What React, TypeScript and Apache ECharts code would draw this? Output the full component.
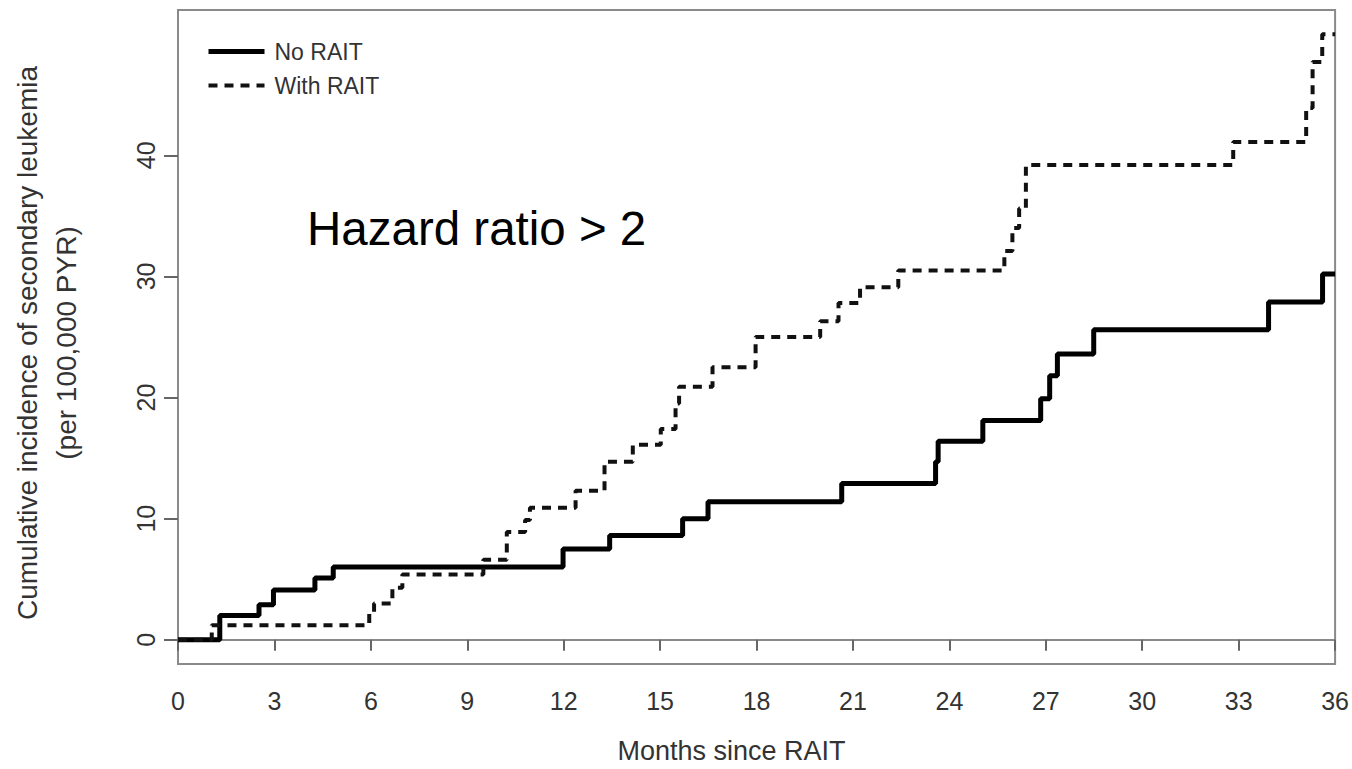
import React, { useEffect, useRef } from "react";
import * as echarts from "echarts";

// ---- Data ----
const noRaitMonths = [0, 1.3, 2.52, 2.97, 4.26, 4.83, 11.98, 13.43, 15.7, 16.49, 20.65, 23.57, 23.65, 25.04, 26.84, 27.12, 27.36, 28.49, 33.93, 35.61, 36];
const noRaitValues = [0, 2.0, 2.9, 4.1, 5.1, 6.0, 7.5, 8.6, 10.0, 11.4, 12.9, 14.7, 16.4, 18.1, 19.9, 21.8, 23.6, 25.6, 27.9, 30.2, 30.2];

const withRaitMonths = [0, 1.05, 5.95, 6.1, 6.67, 6.98, 9.5, 10.23, 10.8, 10.95, 12.37, 13.27, 14.15, 15.02, 15.48, 15.59, 16.63, 17.97, 19.98, 20.55, 21.22, 22.41, 25.71, 25.96, 26.17, 26.38, 32.83, 35.1, 35.3, 35.6, 36];
const withRaitValues = [0, 1.2, 2.2, 3.0, 4.3, 5.4, 6.6, 8.9, 9.9, 10.9, 12.3, 14.7, 16.1, 17.4, 19.5, 20.9, 22.5, 25.0, 26.3, 27.8, 29.1, 30.5, 32.1, 34.0, 35.6, 39.2, 41.1, 43.9, 47.7, 50.0, 50.0];

const yTickValues = [0, 10, 20, 30, 40];
const seriesNames = ["No RAIT", "With RAIT"];
const xTitle = "Months since RAIT";
const yTitle = "Cumulative incidence of secondary leukemia\n(per 100,000 PYR)";
const annotation = "Hazard ratio > 2";

const FONT = "'Liberation Sans', Arial, sans-serif";
const DASH = [9, 7];

export default function App() {
  const ref = useRef<HTMLDivElement>(null);
  useEffect(() => {
    if (!ref.current) return;
    const chart = echarts.init(ref.current, null, { renderer: "svg" });
    const noRait = noRaitMonths.map((m, i) => [m, noRaitValues[i]]);
    const withRait = withRaitMonths.map((m, i) => [m, withRaitValues[i]]);
    chart.setOption({
      animation: false,
      backgroundColor: "#ffffff",
      textStyle: { fontFamily: FONT },
      grid: {
        left: 178,
        right: 11,
        top: 10,
        bottom: 104,
        show: true,
        borderColor: "#8a8a8a",
        borderWidth: 2,
        backgroundColor: "transparent",
      },
      legend: {
        orient: "vertical",
        left: 201,
        top: 35,
        itemWidth: 56,
        itemHeight: 24,
        itemGap: 11,
        textStyle: { fontFamily: FONT, fontSize: 23, color: "#333", padding: [0, 0, 0, 5] },
        data: [
          { name: seriesNames[0], itemStyle: { opacity: 0 }, lineStyle: { width: 5, color: "#000", type: "solid" } },
          { name: seriesNames[1], itemStyle: { opacity: 0 }, lineStyle: { width: 4, color: "#111", type: DASH } },
        ],
      },
      xAxis: {
        type: "value",
        min: 0,
        max: 36,
        interval: 3,
        name: xTitle,
        nameLocation: "middle",
        nameGap: 73,
        nameTextStyle: { fontFamily: FONT, fontSize: 27, color: "#333", padding: [0, 50, 0, 0] },
        axisLine: { show: true, lineStyle: { color: "#8a8a8a", width: 2 } },
        axisTick: { show: true, length: 11, lineStyle: { color: "#666", width: 2 } },
        axisLabel: { fontFamily: FONT, fontSize: 25, color: "#333", margin: 24 },
        splitLine: { show: false },
      },
      yAxis: {
        type: "value",
        min: -2,
        max: 52,
        name: yTitle,
        nameLocation: "middle",
        nameGap: 92,
        nameTextStyle: { fontFamily: FONT, fontSize: 28, color: "#333", lineHeight: 39, align: "center", padding: [0, 12, 0, 0] },
        axisLine: { show: true, lineStyle: { color: "#8a8a8a", width: 2 } },
        axisTick: { show: true, length: 14, customValues: yTickValues, lineStyle: { color: "#666", width: 2 } },
        axisLabel: { fontFamily: FONT, fontSize: 25, color: "#333", rotate: 90, margin: 20, customValues: yTickValues },
        splitLine: { show: false },
      },
      series: [
        {
          name: seriesNames[0],
          type: "line",
          step: "end",
          symbol: "none",
          data: noRait,
          lineStyle: { color: "#000", width: 5, type: "solid" },
          itemStyle: { color: "#000" },
        },
        {
          name: seriesNames[1],
          type: "line",
          step: "end",
          symbol: "none",
          data: withRait,
          lineStyle: { color: "#111", width: 4, type: DASH },
          itemStyle: { color: "#111" },
        },
      ],
      graphic: [
        {
          type: "text",
          left: 307,
          top: 204,
          style: { text: annotation, fontFamily: FONT, fontSize: 47.5, fill: "#000" },
        },
      ],
    });
    return () => chart.dispose();
  }, []);
  return <div ref={ref} style={{ position: "absolute", left: 0, top: 0, width: 1352, height: 769 }} />;
}
